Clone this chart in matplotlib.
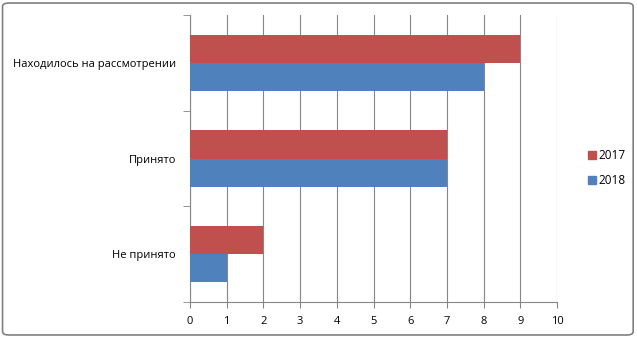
import matplotlib.pyplot as plt
import numpy as np
from matplotlib.patches import FancyBboxPatch
from matplotlib.lines import Line2D

# data
categories = ["Не принято", "Принято", "Находилось на рассмотрении"]
years = ["2017", "2018"]
vals_2017 = [2, 7, 9]
vals_2018 = [1, 7, 8]

red = "#C0504D"
blue = "#4F81BD"
grid_c = "#868686"

plt.rcParams['font.family'] = ['Open Sans', 'DejaVu Sans']
plt.rcParams['font.size'] = 8

fig = plt.figure(figsize=(6.37, 3.37), dpi=100)
ax = fig.add_axes([190/637, 1 - 302/337, 367/637, 287/337])

y = np.arange(len(categories))
h = 0.295
ax.barh(y + h/2, vals_2017, height=h, color=red, label=years[0], zorder=3)
ax.barh(y - h/2, vals_2018, height=h, color=blue, label=years[1], zorder=3)

ax.set_xlim(0, 10)
ax.set_ylim(-0.5, 2.5)
ax.set_xticks(range(0, 11))
ax.xaxis.grid(True, color=grid_c, lw=0.8, zorder=0)

# category labels centered, ticks at boundaries
ax.set_yticks(y)
ax.set_yticklabels(categories)
ax.tick_params(axis='y', length=0, pad=10)
ax.set_yticks(np.arange(-0.5, 3, 1), minor=True)
ax.tick_params(axis='y', which='minor', length=5, color=grid_c)
ax.tick_params(axis='x', length=4, color=grid_c, pad=6)

for s in ['top', 'right']:
    ax.spines[s].set_visible(False)
ax.spines['left'].set_color(grid_c)
ax.spines['bottom'].set_color(grid_c)

handles = [Line2D([], [], marker='s', ls='', color=red, markersize=6),
           Line2D([], [], marker='s', ls='', color=blue, markersize=6)]
fig.legend(handles, years, loc='center left', bbox_to_anchor=(575/637, 1 - 168/337),
           frameon=False, handletextpad=0.1, labelspacing=1.0, fontsize=8.5,
           handlelength=1.0)

border = FancyBboxPatch((0.004, 0.006), 0.99, 0.985, boxstyle="round,pad=0,rounding_size=0.01",
                        transform=fig.transFigure, fill=False, edgecolor="#808080", lw=1.2)
fig.patches.append(border)

fig.savefig("out.png", dpi=100)
